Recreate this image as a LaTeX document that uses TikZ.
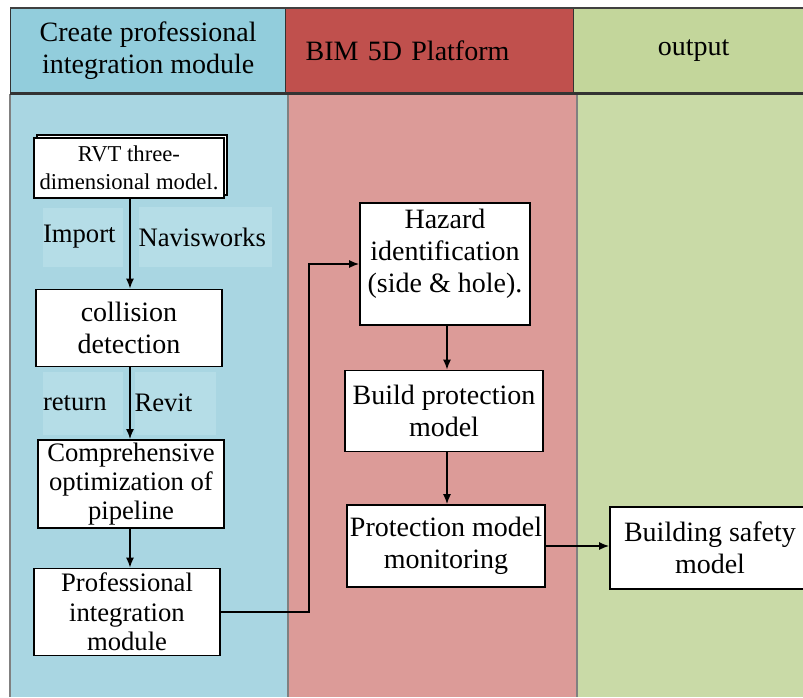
\documentclass[tikz,border=0pt]{standalone}
\usepackage{fontspec}
\setmainfont{Liberation Serif}
\usetikzlibrary{arrows.meta,shadows}

\definecolor{hdrblue}{RGB}{146,205,220}
\definecolor{hdrred}{RGB}{192,80,77}
\definecolor{hdrgreen}{RGB}{195,214,155}
\definecolor{bodyblue}{RGB}{169,214,226}
\definecolor{bodyred}{RGB}{220,155,152}
\definecolor{bodygreen}{RGB}{201,218,167}
\definecolor{lblblue}{RGB}{181,221,231}

\begin{document}
\begin{tikzpicture}[
      x=0.75pt, y=-0.75pt,
      % The flowchart boxes:
      box/.style={draw, line width=1.3pt, fill=white, align=center, inner sep=2pt,
                  font=\fontsize{21}{24}\selectfont},
      smallbox/.style={font=\fontsize{20}{22}\selectfont},
      lbl/.style={fill=lblblue, inner xsep=0pt, inner ysep=0pt, align=left,
                  font=\fontsize{20}{24}\selectfont},
      hdr/.style={draw=black!80, line width=1pt, anchor=north west, minimum height=63pt,
                  inner sep=0pt, align=center, font=\fontsize{21}{24}\selectfont},
      col/.style={draw=black!50, line width=1pt},
      arr/.style={->, line width=1.1pt},
      >={Latex[length=7.5pt,width=6pt]}
  ]
  \useasboundingbox (0,0) rectangle (803,697);
  \clip (0,0) rectangle (803,697);

  %%%%%%%%%%%%%%%%%%%%%%%%%%%%%%%%%%%%%%%%%%%%%%%%%%%%%%%%
  % (0) THE THREE COLUMNS AND THEIR HEADERS
  %%%%%%%%%%%%%%%%%%%%%%%%%%%%%%%%%%%%%%%%%%%%%%%%%%%%%%%%
  \fill[bodyblue]  (10,94)  rectangle (288,697);
  \fill[bodyred]   (288,94) rectangle (577,697);
  \fill[bodygreen] (577,94) rectangle (803,697);
  \draw[col] (10,94) -- (10,697);
  \draw[col] (288,94) -- (288,697);
  \draw[col] (577,94) -- (577,697);

  \node[hdr, fill=hdrblue, minimum width=206.25pt] (hcreate) at (10,8)
       {Create professional\\integration module};
  \node[hdr, fill=hdrred, minimum width=216pt, text width=186pt, align=left] (hbim) at (285,8)
       {BIM 5D Platform};
  \node[hdr, fill=hdrgreen, minimum width=180pt] (hout) at (573,8) {output};
  \draw[line width=1.5pt, black!75] (hcreate.north west) -- (hout.north east);
  \draw[line width=1.8pt, black!80] (hcreate.south west) -- (hout.south east);

  %%%%%%%%%%%%%%%%%%%%%%%%%%%%%%%%%%%%%%%%%%%%%%%%%%%%%%%%
  % (1) LEFT COLUMN: from the RVT model to the module
  %%%%%%%%%%%%%%%%%%%%%%%%%%%%%%%%%%%%%%%%%%%%%%%%%%%%%%%%
  \node[box, minimum width=142.5pt, minimum height=45pt,
        font=\fontsize{17}{21}\selectfont,
        copy shadow={shadow xshift=2pt, shadow yshift=2pt}]
       (rvt) at (129,168) {RVT three-\\dimensional model.};

  % labels beside the first arrow
  \node[lbl, text width=60pt, minimum height=44.25pt]  (import) at (83,237)  {Import};
  \node[lbl, text width=99.75pt, minimum height=45pt]  (navis)  at (205,237) {Navisworks};

  \node[box, minimum width=139.5pt, minimum height=57.75pt] (coll) at (129,328)
       {collision\\detection};

  % labels beside the second arrow
  \node[lbl, text width=60pt, minimum height=47.25pt]    (ret)   at (83,403)  {return};
  \node[lbl, text width=60.75pt, minimum height=47.25pt] (revit) at (175,403) {Revit};

  \node[box, smallbox, minimum width=139.5pt, minimum height=64.5pt] (comp) at (131,484)
       {Comprehensive\\optimization of\\pipeline};
  \node[box, smallbox, minimum width=139.5pt, minimum height=65.25pt] (prof) at (127,612)
       {Professional\\integration\\module};

  \draw[arr] (rvt.south -| 130,0) -- (coll.north -| 130,0);
  \draw[arr] (coll.south -| 130,0) -- (comp.north -| 130,0);
  \draw[arr] (comp.south -| 130,0) -- (prof.north -| 130,0);

  %%%%%%%%%%%%%%%%%%%%%%%%%%%%%%%%%%%%%%%%%%%%%%%%%%%%%%%%
  % (2) MIDDLE COLUMN: BIM 5D steps
  %%%%%%%%%%%%%%%%%%%%%%%%%%%%%%%%%%%%%%%%%%%%%%%%%%%%%%%%
  \node[box, minimum width=127.5pt, minimum height=91.5pt, text depth=20pt] (haz) at (445,264)
       {Hazard\\identification\\(side \& hole).};
  \node[box, minimum width=148.5pt, minimum height=60.75pt] (build) at (444,411)
       {Build protection\\model};
  \node[box, minimum width=148.5pt, minimum height=61.5pt] (mon) at (446,546)
       {Protection model\\monitoring};

  \draw[arr] (prof.east) -- ++(88,0) |- (haz.west);
  \draw[arr] (haz.south -| 447,0) -- (build.north -| 447,0);
  \draw[arr] (build.south -| 447,0) -- (mon.north -| 447,0);

  %%%%%%%%%%%%%%%%%%%%%%%%%%%%%%%%%%%%%%%%%%%%%%%%%%%%%%%%
  % (3) RIGHT COLUMN: output
  %%%%%%%%%%%%%%%%%%%%%%%%%%%%%%%%%%%%%%%%%%%%%%%%%%%%%%%%
  \node[box, minimum width=150pt, minimum height=61.5pt] (safe) at (710,548)
       {Building safety\\model};

  \draw[arr] (mon.east) -- (mon.east -| safe.west);

  \end{tikzpicture}
\end{document}
